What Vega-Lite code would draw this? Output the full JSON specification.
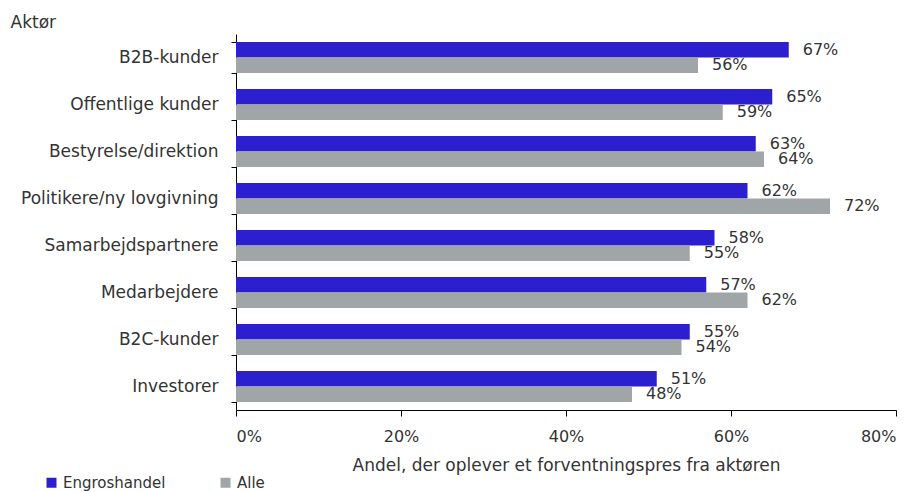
{
  "$schema": "https://vega.github.io/schema/vega-lite/v6.json",
  "width": 660,
  "height": 376,
  "autosize": {"type": "none"},
  "padding": {"left": 236, "top": 34, "right": 20, "bottom": 82},
  "background": "white",
  "config": {
    "view": {"stroke": null},
    "font": "DejaVu Sans",
    "axis": {"labelFont": "DejaVu Sans", "titleFont": "DejaVu Sans", "labelColor": "#333333", "titleColor": "#333333", "labelFontSize": 16, "titleFontSize": 17, "titleFontWeight": "normal", "domainColor": "#000000", "tickColor": "#000000", "grid": false},
    "legend": {"labelFont": "DejaVu Sans", "labelFontSize": 15, "labelColor": "#333333"}
  },
  "data": {
    "values": [
      {"aktor": "B2B-kunder", "serie": "Engroshandel", "v": 0.67},
      {"aktor": "B2B-kunder", "serie": "Alle", "v": 0.56},
      {"aktor": "Offentlige kunder", "serie": "Engroshandel", "v": 0.65},
      {"aktor": "Offentlige kunder", "serie": "Alle", "v": 0.59},
      {"aktor": "Bestyrelse/direktion", "serie": "Engroshandel", "v": 0.63},
      {"aktor": "Bestyrelse/direktion", "serie": "Alle", "v": 0.64},
      {"aktor": "Politikere/ny lovgivning", "serie": "Engroshandel", "v": 0.62},
      {"aktor": "Politikere/ny lovgivning", "serie": "Alle", "v": 0.72},
      {"aktor": "Samarbejdspartnere", "serie": "Engroshandel", "v": 0.58},
      {"aktor": "Samarbejdspartnere", "serie": "Alle", "v": 0.55},
      {"aktor": "Medarbejdere", "serie": "Engroshandel", "v": 0.57},
      {"aktor": "Medarbejdere", "serie": "Alle", "v": 0.62},
      {"aktor": "B2C-kunder", "serie": "Engroshandel", "v": 0.55},
      {"aktor": "B2C-kunder", "serie": "Alle", "v": 0.54},
      {"aktor": "Investorer", "serie": "Engroshandel", "v": 0.51},
      {"aktor": "Investorer", "serie": "Alle", "v": 0.48}
    ]
  },
  "encoding": {
    "y": {
      "field": "aktor", "type": "nominal", "sort": null,
      "scale": {"paddingInner": 0.34, "paddingOuter": 0.17},
      "axis": {"title": "Aktør", "titleFontSize": 17, "titleAngle": 0, "titleX": -226, "titleY": -12, "titleAlign": "left", "titleBaseline": "middle", "tickBand": "extent", "tickSize": 5, "labelPadding": 13, "labelFontSize": 17, "labelLimit": 240}
    },
    "yOffset": {"field": "serie", "type": "nominal", "sort": ["Engroshandel", "Alle"]},
    "x": {
      "field": "v", "type": "quantitative",
      "scale": {"domain": [0, 0.8]},
      "axis": {"title": "Andel, der oplever et forventningspres fra aktøren", "values": [0, 0.2, 0.4, 0.6, 0.8], "format": ".0%", "tickSize": 6, "labelPadding": 12, "titlePadding": 13}
    }
  },
  "layer": [
    {
      "mark": {"type": "bar"},
      "encoding": {
        "color": {
          "field": "serie", "type": "nominal",
          "sort": ["Engroshandel", "Alle"],
          "scale": {"domain": ["Engroshandel", "Alle"], "range": ["#2B1FCF", "#A0A6A8"]},
          "legend": {"title": null, "orient": "none", "legendX": -192, "legendY": 441, "direction": "horizontal", "symbolType": "square", "symbolSize": 100, "symbolStrokeWidth": 0, "columnPadding": 52, "labelOffset": 4}
        }
      }
    },
    {
      "mark": {"type": "text", "align": "left", "baseline": "middle", "dx": 14, "fontSize": 16, "color": "#333333"},
      "encoding": {
        "text": {"field": "v", "type": "quantitative", "format": ".0%"},
        "detail": {"field": "serie"}
      }
    }
  ]
}
